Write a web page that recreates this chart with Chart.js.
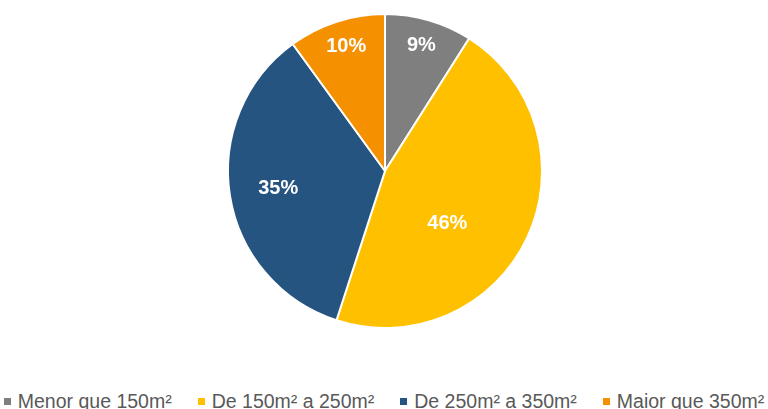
<!DOCTYPE html>
<html>
<head>
<meta charset="utf-8">
<script src="https://cdn.jsdelivr.net/npm/chart.js@4/dist/chart.umd.min.js"></script>
<style>
  html, body { margin: 0; padding: 0; background: #fff; }
  body { width: 768px; height: 409px; position: relative; overflow: hidden; }
  #wrap { position: absolute; left: 0; top: 0; width: 768px; height: 342px; }
  #legend {
    position: absolute; left: 0; top: 390px; width: 768px;
    display: flex; justify-content: center;
    font-family: "Liberation Sans", Arial, sans-serif; font-size: 19.5px;
    color: #595959; white-space: nowrap;
  }
  #legend .item { display: flex; align-items: center; margin: 0 13px; }
  #legend .box { width: 7px; height: 7px; margin-right: 7px; }
</style>
</head>
<body>
<div id="wrap"><canvas id="chart"></canvas></div>
<div id="legend"></div>
<script>
const categories = ["Menor que 150m²", "De 150m² a 250m²", "De 250m² a 350m²", "Maior que 350m²"];
const shares = [9, 46, 35, 10];
const colors = ["#7F7F7F", "#FFC000", "#255480", "#F59100"];

// label position inside each slice: fraction of radius, angle nudge in degrees
const labelPlacement = [[0.83, 0], [0.52, 15], [0.69, -0.5], [0.83, 0.7]];

const sliceLabels = {
  id: "sliceLabels",
  afterDatasetsDraw(chart) {
    const { ctx } = chart;
    const meta = chart.getDatasetMeta(0);
    ctx.save();
    ctx.fillStyle = "#fff";
    ctx.font = "bold 20px 'Liberation Sans', Arial, sans-serif";
    ctx.textAlign = "center";
    ctx.textBaseline = "middle";
    meta.data.forEach((arc, i) => {
      const [r, nudge] = labelPlacement[i];
      const mid = (arc.startAngle + arc.endAngle) / 2 + nudge * Math.PI / 180;
      const x = arc.x + Math.cos(mid) * arc.outerRadius * r;
      const y = arc.y + Math.sin(mid) * arc.outerRadius * r;
      ctx.fillText(chart.data.datasets[0].data[i] + "%", x, y);
    });
    ctx.restore();
  },
};

// legend built from the chart's own legend items
const htmlLegend = {
  id: "htmlLegend",
  afterUpdate(chart) {
    const el = document.getElementById("legend");
    el.innerHTML = "";
    const items = chart.options.plugins.legend.labels.generateLabels(chart);
    items.forEach((item) => {
      const div = document.createElement("div");
      div.className = "item";
      const box = document.createElement("span");
      box.className = "box";
      box.style.background = item.fillStyle;
      const txt = document.createElement("span");
      txt.textContent = item.text;
      div.appendChild(box);
      div.appendChild(txt);
      el.appendChild(div);
    });
  },
};

const chart = new Chart(document.getElementById("chart").getContext("2d"), {
  type: "pie",
  data: {
    labels: categories,
    datasets: [
      {
        data: shares,
        backgroundColor: colors,
        borderColor: "#fff",
        borderWidth: 2,
      },
    ],
  },
  options: {
    responsive: true,
    maintainAspectRatio: false,
    animation: false,
    radius: 157,
    layout: { padding: { left: 2 } },
    plugins: {
      legend: { display: false },
      tooltip: { enabled: false },
    },
  },
  plugins: [sliceLabels, htmlLegend],
});
</script>
</body>
</html>
